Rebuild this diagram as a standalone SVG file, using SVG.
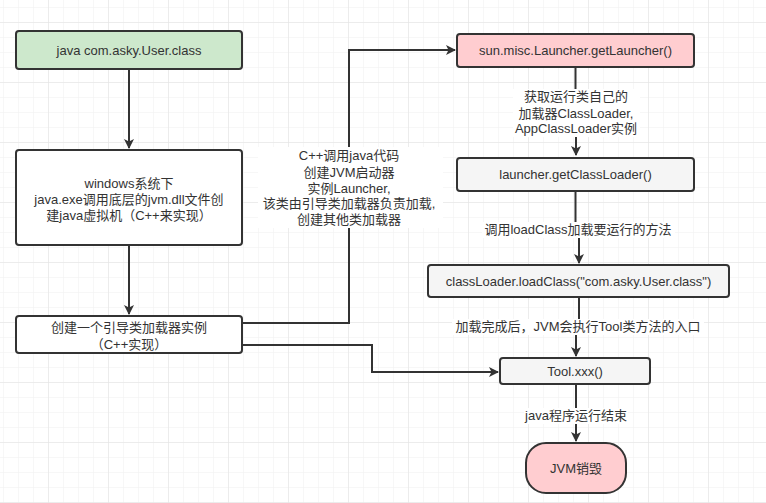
<svg xmlns="http://www.w3.org/2000/svg" width="766" height="503" viewBox="0 0 766 503">
<defs>
<pattern id="minor" x="3" y="7" width="15" height="15" patternUnits="userSpaceOnUse">
<path d="M0 0V15M0 0H15" fill="none" stroke="#efefef" stroke-width="1"/>
</pattern>
<pattern id="major" x="48" y="22" width="60" height="60" patternUnits="userSpaceOnUse">
<path d="M0 0V60M0 0H60" fill="none" stroke="#e2e2e2" stroke-width="1"/>
</pattern>
<marker id="arr" viewBox="0 0 10 10" refX="9" refY="5" markerWidth="10" markerHeight="10" markerUnits="userSpaceOnUse" orient="auto">
<path d="M0 0L10 5L0 10L2.5 5Z" fill="#333"/>
</marker>
<style>
.n{stroke:#333;stroke-width:2}
.t{font-family:"Liberation Sans","Noto Sans CJK SC",sans-serif;font-size:13px;fill:#333;text-anchor:middle}
.e{fill:none;stroke:#333;stroke-width:2}
.lb{fill:#fff}
</style>
</defs>
<rect width="766" height="503" fill="#fff"/>
<rect width="766" height="503" fill="url(#minor)"/>
<rect width="766" height="503" fill="url(#major)"/>

<g id="connectors">
<path class="e" d="M129 69V148" marker-end="url(#arr)"/>
<path class="e" d="M129 245V314" marker-end="url(#arr)"/>
<path class="e" d="M242 323H349V50H455" marker-end="url(#arr)"/>
<path class="e" d="M242 345H372V372H498" marker-end="url(#arr)"/>
<path class="e" d="M575.5 67V113H576V155" marker-end="url(#arr)"/>
<path class="e" d="M575.5 191V230H579V263" marker-end="url(#arr)"/>
<path class="e" d="M579 297V327H576V356" marker-end="url(#arr)"/>
<path class="e" d="M576 384V441" marker-end="url(#arr)"/>
<g id="label1">
<rect class="lb" x="258" y="147" width="185" height="81"/>
<text class="t" x="349" y="160">C++调用java代码</text>
<text class="t" x="349" y="177">创建JVM启动器</text>
<text class="t" x="349" y="193">实例Launcher,</text>
<text class="t" x="349" y="208">该类由引导类加载器负责加载,</text>
<text class="t" x="349" y="224">创建其他类加载器</text>
</g>
<g id="label2">
<rect class="lb" x="513" y="89" width="127" height="48"/>
<text class="t" x="576" y="101">获取运行类自己的</text>
<text class="t" x="576" y="118">加载器ClassLoader,</text>
<text class="t" x="576" y="133">AppClassLoader实例</text>
</g>
<g id="label3">
<rect class="lb" x="482" y="222" width="193" height="16"/>
<text class="t" x="578" y="234">调用loadClass加载要运行的方法</text>
</g>
<g id="label4">
<rect class="lb" x="452" y="319" width="252" height="16"/>
<text class="t" x="578" y="331">加载完成后，JVM会执行Tool类方法的入口</text>
</g>
<g id="label5">
<rect class="lb" x="524" y="408" width="104" height="16"/>
<text class="t" x="576" y="420">java程序运行结束</text>
</g>
</g>

<g id="n1">
<rect class="n" x="16" y="31" width="226" height="38" rx="3" fill="#cde8cc"/>
<text class="t" x="129" y="54.5">java com.asky.User.class</text>
</g>
<g id="n2">
<rect class="n" x="16" y="150" width="226" height="95" rx="3" fill="#fff"/>
<text class="t" x="129" y="187.5">windows系统下</text>
<text class="t" x="129" y="203.5">java.exe调用底层的jvm.dll文件创</text>
<text class="t" x="129" y="219.5">建java虚拟机（C++来实现）</text>
</g>
<g id="n3">
<rect class="n" x="16" y="316" width="226" height="37" rx="3" fill="#fff"/>
<text class="t" x="129" y="331.5">创建一个引导类加载器实例</text>
<text class="t" x="129" y="348.5">（C++实现）</text>
</g>
<g id="n4">
<rect class="n" x="457" y="34" width="237" height="33" rx="3" fill="#ffcdd0"/>
<text class="t" x="575.5" y="55">sun.misc.Launcher.getLauncher()</text>
</g>
<g id="n5">
<rect class="n" x="457" y="158" width="237" height="33" rx="3" fill="#f5f5f5"/>
<text class="t" x="575.5" y="179">launcher.getClassLoader()</text>
</g>
<g id="n6">
<rect class="n" x="428" y="265" width="301" height="32" rx="3" fill="#f5f5f5"/>
<text class="t" x="578.5" y="285.5">classLoader.loadClass("com.asky.User.class")</text>
</g>
<g id="n7">
<rect class="n" x="500" y="358" width="150" height="26" rx="3" fill="#f5f5f5"/>
<text class="t" x="575" y="375.5">Tool.xxx()</text>
</g>
<g id="n8">
<rect class="n" x="526" y="443" width="100" height="50" rx="20" fill="#ffcdd0"/>
<text class="t" x="576" y="472.5">JVM销毁</text>
</g>
</svg>
